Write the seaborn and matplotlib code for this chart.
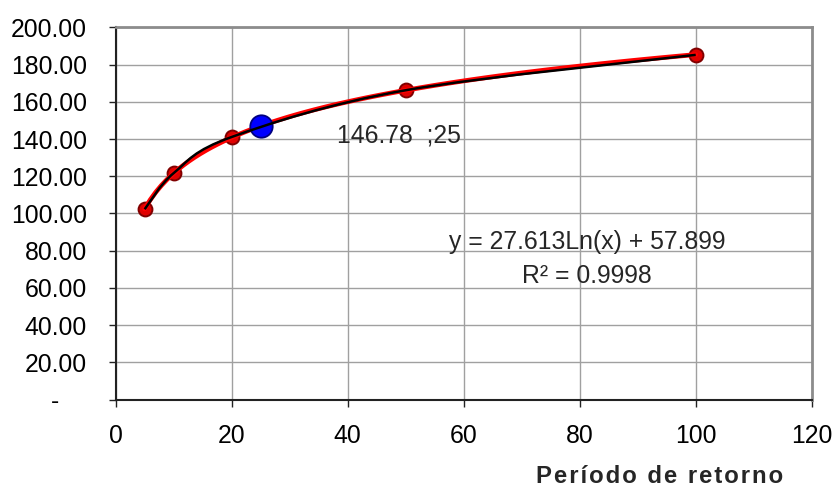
import numpy as np
import pandas as pd
import matplotlib
matplotlib.use("Agg")
import matplotlib.pyplot as plt
from matplotlib.path import Path
from matplotlib.patches import PathPatch
from matplotlib.transforms import ScaledTranslation
import seaborn as sns

# ---- data ----
return_period = [5, 10, 20, 50, 100]
rainfall = [102.3, 121.7, 141.1, 166.2, 185.2]
query_period = [25]
query_value = [146.78]
x_ticks = [0, 20, 40, 60, 80, 100, 120]
y_ticks = [0, 20, 40, 60, 80, 100, 120, 140, 160, 180, 200]
eq_label = "y = 27.613Ln(x) + 57.899"
r2_label = "R² = 0.9998"
point_label = "146.78  ;25"
x_title = "Período de retorno"

FS = 17.8

sns.set_style("white")
plt.rcParams["font.family"] = ["Liberation Sans", "DejaVu Sans"]

fig = plt.figure(figsize=(8.37, 4.86), dpi=100)
ax = fig.add_axes([0.1382, 0.1776, 0.8316, 0.7662])

df = pd.DataFrame({"T": return_period, "P": rainfall})

# red markers (bottom layer)
sns.scatterplot(data=df, x="T", y="P", ax=ax, s=100, color="#e00000",
                edgecolor="#800000", linewidth=1.4, zorder=3, legend=False)

# logarithmic trendline
sns.regplot(data=df, x="T", y="P", logx=True, ci=None, scatter=False, ax=ax,
            line_kws=dict(color="#ff0000", lw=3.4, zorder=4))

# query point
sns.scatterplot(x=query_period, y=query_value, ax=ax, s=260, color="#0000ff",
                edgecolor="#000080", linewidth=1.3, zorder=5, legend=False)

# smoothed black series line (Bezier through the data points)
xs = np.asarray(return_period, float)
ys = np.asarray(rainfall, float)
pts = np.column_stack([xs, ys])
verts = [pts[0]]
codes = [Path.MOVETO]
n = len(pts)
for i in range(n - 1):
    p0 = pts[i - 1] if i > 0 else pts[i]
    p1 = pts[i]
    p2 = pts[i + 1]
    p3 = pts[i + 2] if i + 2 < n else pts[i + 1]
    c1 = p1 + (p2 - p0) / 6.0
    c2 = p2 - (p3 - p1) / 6.0
    verts += [c1, c2, p2]
    codes += [Path.CURVE4] * 3
ax.add_patch(PathPatch(Path(verts, codes), facecolor="none", edgecolor="black",
                       lw=1.8, zorder=6))

# axes
ax.set_xlim(0, 120)
ax.set_ylim(0, 200)
ax.set_xticks(x_ticks)
ax.set_yticks(y_ticks)
ax.set_xticklabels([str(v) for v in x_ticks])
ax.set_yticklabels(["-" if v == 0 else f"{v:.2f}" for v in y_ticks])
ax.set_xlabel("")
ax.set_ylabel("")
ax.grid(True, color="#a0a0a0", lw=1.0)
ax.set_axisbelow(True)
for s in ["left", "bottom"]:
    ax.spines[s].set_color("#222222")
    ax.spines[s].set_linewidth(1.5)
for s in ["top", "right"]:
    ax.spines[s].set_color("#8c8c8c")
    ax.spines[s].set_linewidth(2.0)
    ax.spines[s].set_visible(True)
ax.tick_params(axis="both", which="both", bottom=True, left=True, direction="out",
               length=5.3, width=1.0, color="#222222", labelsize=FS, labelcolor="black")
ax.tick_params(axis="x", pad=12.5)
ax.tick_params(axis="y", pad=15.5)

# shift the "-" label like Excel accounting format
lab0 = ax.get_yticklabels()[0]
lab0.set_transform(lab0.get_transform() + ScaledTranslation(-0.28, 0, fig.dpi_scale_trans))

# annotations
ax.text(38.1, 137.9, point_label, fontsize=FS, ha="left", va="baseline", zorder=7)
ax.text(81.3, 81.2, eq_label, fontsize=FS, ha="center", va="baseline", zorder=7)
ax.text(81.2, 62.5, r2_label, fontsize=FS, ha="center", va="baseline", zorder=7)

title_spaced = "\u200a".join(x_title)
fig.text(0.7885, 1 - 482.5 / 486, title_spaced, fontsize=17.2, fontweight="bold",
         ha="center", va="baseline")

fig.savefig("out.png", dpi=100)
